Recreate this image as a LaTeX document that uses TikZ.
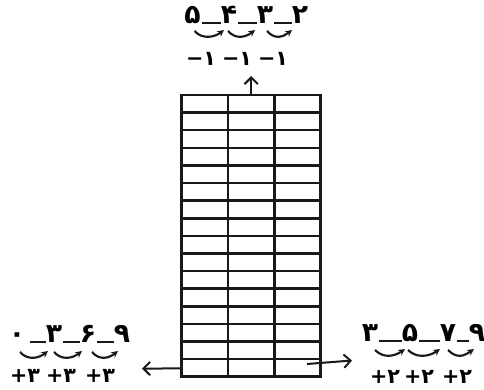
\documentclass[tikz,border=0pt]{standalone}
\usepackage{fontspec}
\newfontfamily\fa[Script=Arabic]{DejaVu Sans}
\usetikzlibrary{arrows.meta,calc}
\begin{document}
\begin{tikzpicture}[x=0.75pt,y=-0.75pt,
  digit/.style={font=\fa\bfseries\fontsize{20}{22}\selectfont, inner sep=0pt, anchor=base},
  lab/.style={font=\fa\bfseries\fontsize{15.5}{18}\selectfont, inner sep=0pt, anchor=base},
  gridline/.style={line width=1.9pt, black!90},
  arr/.style={line width=1.5pt, black!90, -{Straight Barb[length=5pt,width=10pt,line width=1.5pt]}},
  arc/.style={line width=1.6pt, black!90, -{Stealth[length=5pt,width=5pt]}},
  under/.style={line width=1pt, black!90}]
\useasboundingbox (0,0) rectangle (484,389);
% grid
\node[draw, gridline, inner sep=0pt, minimum width=104.25pt, minimum height=211.3pt] (grid) at (251.2,235.85) {};
\foreach \k in {1,...,15}{
  \draw[gridline] (181.7,{95+\k*17.606}) -- (320.7,{95+\k*17.606});
}
\draw[gridline] (228.2,95) -- (228.2,376.7);
\draw[gridline] (274.5,95) -- (274.5,376.7);
% arrow endpoints
\coordinate (topend) at (251.2,76);
\coordinate (leftend) at (142,368.5);
\coordinate (rightstart) at (307,364);
\coordinate (rightend) at (352,360.5);
\draw[arr] (grid.north) -- (topend);
\draw[arr] ($(grid.south west)+(0,-9.5)$) -- (leftend);
\draw[arr] (rightstart) -- (rightend);
% top sequence
\node[digit] (t5) at (192.5,23) {۵};
\node[digit] (t4) at (229,23) {۴};
\node[digit] (t3) at (265,23) {۳};
\node[digit] (t2) at (300,23) {۲};
\draw[under] ($(t5.base east)+(1,0)$) -- (t4.base west);
\draw[under] ($(t4.base east)+(1,0)$) -- (t3.base west);
\draw[under] ($(t3.base east)+(1,0)$) -- (t2.base west);
\draw[arc] ($(t5.base)+(2,8)$) .. controls +(8,9) and +(-9,7) .. ($(t4.base)+(-5,7)$);
\draw[arc] ($(t4.base)+(-1,8)$) .. controls +(8,9) and +(-9,7) .. ($(t3.base)+(-10,7)$);
\draw[arc] ($(t3.base)+(2,8)$) .. controls +(8,9) and +(-9,7) .. ($(t2.base)+(-8,7)$);
\node[lab] (tm1) at (201,65) {\hbox{−}\hbox{۱}};
\node[lab] (tm2) at (237,65) {\hbox{−}\hbox{۱}};
\node[lab] (tm3) at (273,65) {\hbox{−}\hbox{۱}};
% bottom-left sequence
\node[digit] (l0) at (17,342) {۰};
\node[digit] (l3) at (54,342) {۳};
\node[digit] (l6) at (88,342) {۶};
\node[digit] (l9) at (122,342) {۹};
\draw[under] ($(l0.base east)+(5,0)$) -- (l3.base west);
\draw[under] ($(l3.base east)+(1,0)$) -- (l6.base west);
\draw[under] ($(l6.base east)+(1,0)$) -- (l9.base west);
\draw[arc] ($(l0.base)+(3,10)$) .. controls +(8,9) and +(-9,7) .. ($(l3.base)+(-6,9)$);
\draw[arc] ($(l3.base)+(0,10)$) .. controls +(8,9) and +(-9,7) .. ($(l6.base)+(-6,9)$);
\draw[arc] ($(l6.base)+(4,10)$) .. controls +(8,9) and +(-9,7) .. ($(l9.base)+(-4,9)$);
\node[lab] (lp1) at (25,382) {\hbox{+}\hbox{۳}};
\node[lab] (lp2) at (61,382) {\hbox{+}\hbox{۳}};
\node[lab] (lp3) at (100,382) {\hbox{+}\hbox{۳}};
% bottom-right sequence
\node[digit] (r3) at (370,341) {۳};
\node[digit] (r5) at (410,341) {۵};
\node[digit] (r7) at (448,341) {۷};
\node[digit] (r9) at (477,341) {۹};
\draw[under] ($(r3.base east)+(1,0)$) -- (r5.base west);
\draw[under] ($(r5.base east)+(1,0)$) -- (r7.base west);
\draw[under] ($(r7.base east)+(1,0)$) -- (r9.base west);
\draw[arc] ($(r3.base)+(5,9)$) .. controls +(9,9) and +(-10,7) .. ($(r5.base)+(-5,8)$);
\draw[arc] ($(r5.base)+(-2,9)$) .. controls +(9,9) and +(-10,7) .. ($(r7.base)+(-8,8)$);
\draw[arc] ($(r7.base)+(0,9)$) .. controls +(9,9) and +(-10,7) .. ($(r9.base)+(-3,8)$);
\node[lab] (rp1) at (385,383) {\hbox{+}\hbox{۲}};
\node[lab] (rp2) at (419,383) {\hbox{+}\hbox{۲}};
\node[lab] (rp3) at (457,383) {\hbox{+}\hbox{۲}};
\end{tikzpicture}
\end{document}
